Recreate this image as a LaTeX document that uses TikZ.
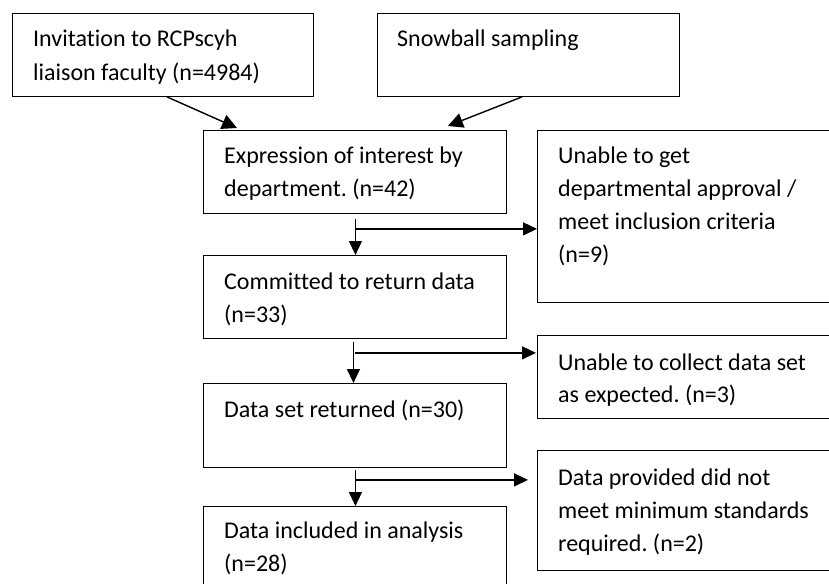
\documentclass[tikz,border=0pt]{standalone}
\usepackage{fontspec}
\setmainfont{Carlito}[Ligatures={NoCommon}]
\usetikzlibrary{arrows.meta,calc}

\tikzset{
  box/.style={draw, line width=0.9pt, anchor=north west, inner sep=0pt},
  txt/.style={anchor=base west, inner sep=0pt, font=\fontsize{24}{33.3}\selectfont},
  feed/.style={line width=1.4pt, -{Triangle[length=15pt,width=15pt]}},
  flow/.style={line width=1.4pt, -{Triangle[length=14pt,width=13pt]}}
}

\begin{document}
\frenchspacing
\begin{tikzpicture}[x=1pt, y=-1pt]
\useasboundingbox (0,0) rectangle (829,583);

% boxes
\node[box, minimum width=301pt, minimum height=83pt]  (inv)   at (12,13)  {};
\node[box, minimum width=302pt, minimum height=83pt]  (snow)  at (377,13) {};
\node[box, minimum width=303pt, minimum height=83pt]  (expr)  at (203,130) {};
\node[box, minimum width=303pt, minimum height=172pt] (exone) at (537,130) {};
\node[box, minimum width=303pt, minimum height=83pt]  (comm)  at (203,255) {};
\node[box, minimum width=303pt, minimum height=83pt]  (extwo) at (537,335) {};
\node[box, minimum width=303pt, minimum height=84pt]  (ret)   at (203,383) {};
\node[box, minimum width=303pt, minimum height=120pt] (exthr) at (537,450) {};
\node[box, minimum width=303pt, minimum height=90pt]  (incl)  at (203,506) {};

% texts
\node[txt] (tinv)   at ($(inv.north west)+(21,34)$)   {\vtop{\hbox{Invitation to RCPscyh}\hbox{liaison faculty (n=4984)}}};
\node[txt] (tsnow)  at ($(snow.north west)+(20,34)$)  {Snowball sampling};
\node[txt] (texpr)  at ($(expr.north west)+(21,33)$)  {\vtop{\hbox{Expression of interest by}\hbox{department. (n=42)}}};
\node[txt] (texone) at ($(exone.north west)+(21,33)$) {\vtop{\hbox{Unable to get}\hbox{departmental approval /}\hbox{meet inclusion criteria}\hbox{(n=9)}}};
\node[txt] (tcomm)  at ($(comm.north west)+(21,34)$)  {\vtop{\hbox{Committed to return data}\hbox{(n=33)}}};
\node[txt] (textwo) at ($(extwo.north west)+(21,35)$) {\vtop{\baselineskip=32pt\hbox{Unable to collect data set}\hbox{as expected. (n=3)}}};
\node[txt] (tret)   at ($(ret.north west)+(21,34)$)   {Data set returned (n=30)};
\node[txt] (texthr) at ($(exthr.north west)+(21,35)$) {\vtop{\hbox{Data provided did not}\hbox{meet minimum standards}\hbox{required. (n=2)}}};
\node[txt] (tincl)  at ($(incl.north west)+(21,32)$)  {\vtop{\hbox{Data included in analysis}\hbox{(n=28)}}};

% recruitment sources feeding into the expressions of interest
\draw[feed] ($(inv.south west)+(155,0)$) -- ($(expr.north west)+(34,-2)$);
\draw[feed] ($(snow.south west)+(145,0)$) -- ($(expr.north east)+(-59,-4)$);

% main flow with exclusions branching off to the right
\coordinate (ja) at ($(expr.south)+(0.5,15)$);
\draw[flow] ($(expr.south)+(0.5,5)$) -- ($(comm.north)+(0.5,0)$);
\draw[flow] (ja) -- (ja -| exone.west);

\coordinate (jb) at ($(comm.south)+(0.5,14)$);
\draw[flow] ($(comm.south)+(-1.5,3)$) -- ($(ret.north)+(-1.5,0)$);
\draw[flow] (jb) -- ($(jb -| extwo.west)+(-1,0)$);

\coordinate (jc) at ($(ret.south)+(0.5,12)$);
\draw[flow] ($(ret.south)+(0.5,2)$) -- ($(incl.north)+(0.5,0)$);
\draw[flow] (jc) -- ($(jc -| exthr.west)+(-9,0)$);
\end{tikzpicture}
\end{document}
